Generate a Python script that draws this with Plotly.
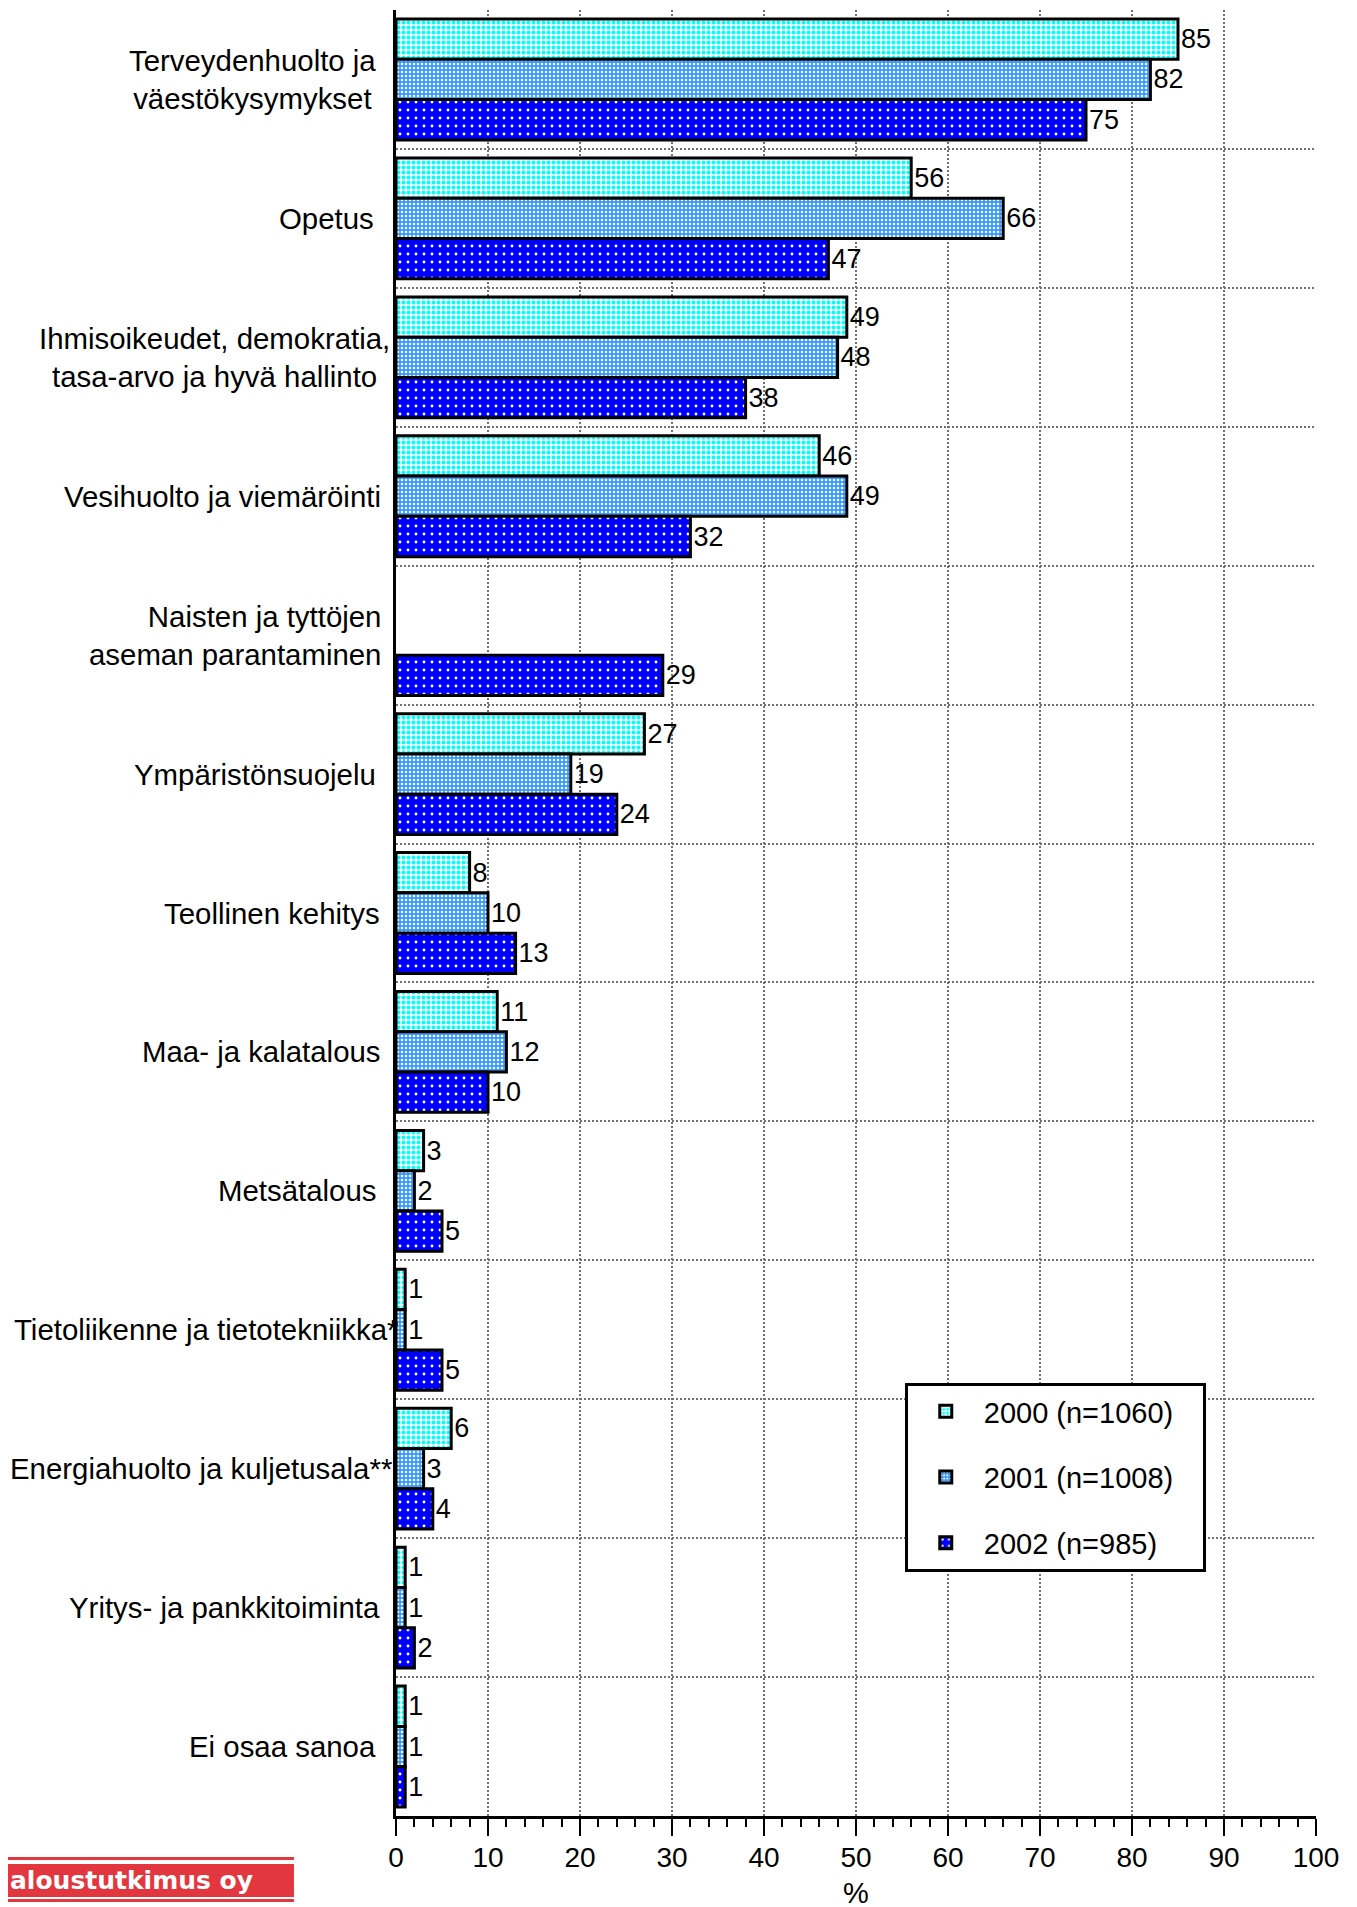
import plotly.graph_objects as go

# ---------------- data ----------------
categories = [
    "Terveydenhuolto ja väestökysymykset",
    "Opetus",
    "Ihmisoikeudet, demokratia, tasa-arvo ja hyvä hallinto",
    "Vesihuolto ja viemäröinti",
    "Naisten ja tyttöjen aseman parantaminen",
    "Ympäristönsuojelu",
    "Teollinen kehitys",
    "Maa- ja kalatalous",
    "Metsätalous",
    "Tietoliikenne ja tietotekniikka*",
    "Energiahuolto ja kuljetusala**",
    "Yritys- ja pankkitoiminta",
    "Ei osaa sanoa",
]
category_labels = [
    "Terveydenhuolto ja<br>väestökysymykset",
    "Opetus",
    "Ihmisoikeudet, demokratia,<br>tasa-arvo ja hyvä hallinto",
    "Vesihuolto ja viemäröinti",
    "Naisten ja tyttöjen<br>aseman parantaminen",
    "Ympäristönsuojelu",
    "Teollinen kehitys",
    "Maa- ja kalatalous",
    "Metsätalous",
    "Tietoliikenne ja tietotekniikka*",
    "Energiahuolto ja kuljetusala**",
    "Yritys- ja pankkitoiminta",
    "Ei osaa sanoa",
]

series_names = ["2000 (n=1060)", "2001 (n=1008)", "2002 (n=985)"]
values_2000 = [85, 56, 49, 46, None, 27, 8, 11, 3, 1, 6, 1, 1]
values_2001 = [82, 66, 48, 49, None, 19, 10, 12, 2, 1, 3, 1, 1]
values_2002 = [75, 47, 38, 32, 29, 24, 13, 10, 5, 5, 4, 2, 1]

x_ticks = list(range(0, 101, 10))

# ---------------- styles ----------------
FONT = "Liberation Sans, Arial, sans-serif"
GRID = "#707070"
# label text alignment and horizontal offset (px) from the value axis
label_align = ["center", "center", "center", "center", "right", "center", "center",
               "center", "center", "center", "center", "center", "center"]
label_shift = [-18, -20, -4, -13, -13, -18, -14, -13, -18, 4, -2, -14, -18]

patterns = [
    dict(shape=".", bgcolor="white", fgcolor="#00FFFF", size=5, solidity=0.5, fillmode="replace"),
    dict(shape=".", bgcolor="#3399FF", fgcolor="white", size=4, solidity=0.35, fillmode="replace"),
    dict(shape=".", bgcolor="#0000FF", fgcolor="white", size=8, solidity=0.1, fillmode="replace"),
]
base_colors = ["white", "#3399FF", "#0000FF"]
LEGEND_PAD = "&nbsp;&nbsp;&nbsp;"

fig = go.Figure()
for i, (name, vals) in enumerate(zip(series_names, [values_2000, values_2001, values_2002])):
    fig.add_trace(go.Bar(
        y=categories,
        x=vals,
        name=name + LEGEND_PAD,
        orientation="h",
        legendgroup=name,
        marker=dict(color=base_colors[i], pattern=patterns[i],
                    line=dict(color="black", width=3)),
        text=[("" if v is None else str(v)) for v in vals],
        textposition="outside",
        textfont=dict(size=27, color="black", family=FONT),
        constraintext="none",
        cliponaxis=False,
        hovertemplate="%{y}: %{x}<extra>" + name + "</extra>",
    ))

annotations = []
for cat, lab, al, sh in zip(categories, category_labels, label_align, label_shift):
    annotations.append(dict(
        x=0, xref="paper", xanchor="right", xshift=sh,
        y=cat, yref="y", yanchor="middle",
        text=lab, align=al, showarrow=False,
        font=dict(size=29.4, color="black", family=FONT),
    ))

# logo text (bottom-left)
annotations.append(dict(
    x=-0.4217, xref="paper", xanchor="left",
    y=-0.0358, yref="paper", yanchor="middle",
    text="<b>aloustutkimus oy</b>", showarrow=False,
    font=dict(size=25, color="white", family="DejaVu Sans, sans-serif"),
))

logo_red = "#E3373F"
shapes = [
    dict(type="rect", xref="paper", yref="paper", x0=-0.44, x1=-0.1109,
         y0=-0.0227, y1=-0.0244, fillcolor=logo_red, line=dict(width=0), layer="above"),
    dict(type="rect", xref="paper", yref="paper", x0=-0.44, x1=-0.1109,
         y0=-0.0266, y1=-0.0449, fillcolor=logo_red, line=dict(width=0), layer="below"),
    dict(type="rect", xref="paper", yref="paper", x0=-0.44, x1=-0.1109,
         y0=-0.0460, y1=-0.0476, fillcolor=logo_red, line=dict(width=0), layer="above"),
]

fig.update_layout(
    template="none",
    width=1357, height=1907,
    margin=dict(l=388, r=49, t=2, b=99, pad=0, autoexpand=False),
    paper_bgcolor="white", plot_bgcolor="white",
    font=dict(family=FONT, size=29, color="black"),
    barmode="group", bargap=0.13, bargroupgap=0,
    showlegend=True,
    legend=dict(
        x=0.553, y=0.2398, xanchor="left", yanchor="top",
        bgcolor="white", bordercolor="black", borderwidth=3,
        font=dict(size=29, family=FONT, color="black"),
        traceorder="grouped", tracegroupgap=25, itemwidth=66,
    ),
    annotations=annotations,
    shapes=shapes,
    xaxis=dict(
        range=[0, 100], tickmode="array", tickvals=x_ticks,
        ticktext=[str(t) for t in x_ticks],
        automargin=False,
        showgrid=True, gridcolor=GRID, gridwidth=2, griddash="2px,2px",
        zeroline=False,
        showline=True, linecolor="black", linewidth=3,
        ticks="outside", ticklen=17, tickwidth=2, tickcolor="black",
        tickfont=dict(size=28, family=FONT, color="black"),
        ticklabelstandoff=-3,
        minor=dict(dtick=2, tick0=0, ticks="outside", ticklen=8, tickwidth=2,
                   tickcolor="black", showgrid=False),
        title=dict(text="%", font=dict(size=29, family=FONT, color="black"), standoff=12),
    ),
    yaxis=dict(
        type="category", categoryorder="array", categoryarray=categories,
        autorange="reversed", automargin=False,
        showticklabels=False, ticks="", tickson="boundaries",
        showgrid=True, gridcolor=GRID, gridwidth=2, griddash="2px,2px",
        zeroline=False,
        showline=True, linecolor="black", linewidth=3,
    ),
)

fig.write_html("out.html")
